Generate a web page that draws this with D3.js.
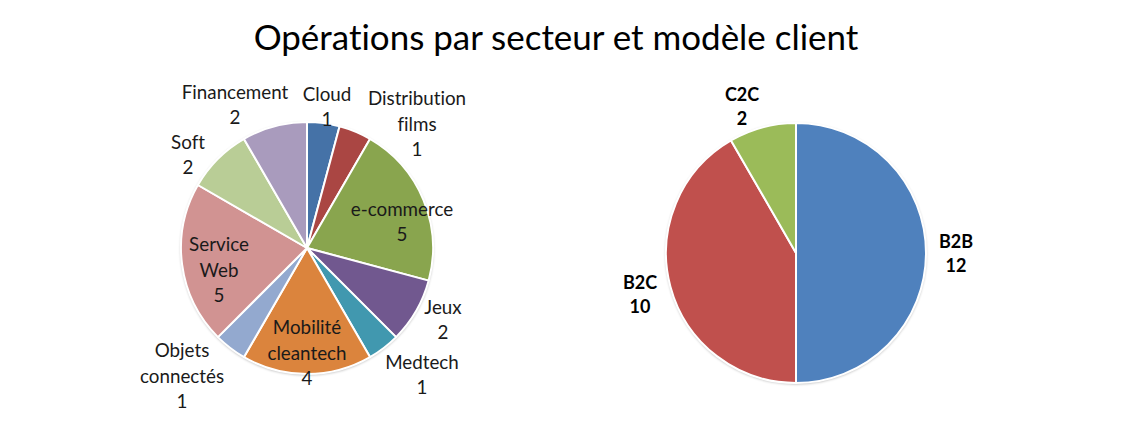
<!DOCTYPE html>
<html><head><meta charset="utf-8">
<script src="https://cdn.jsdelivr.net/npm/d3@7"></script>
<style>
html,body{margin:0;padding:0;background:#fff;}
svg{display:block;font-family:Lato,"Open Sans",sans-serif;font-variant-ligatures:none;}
</style></head><body>
<svg id="chart" width="1135" height="431"></svg>
<script>
// Left pie: sectors
const sectors = ["Cloud","Distribution films","e-commerce","Jeux","Medtech","Mobilité cleantech","Objets connectés","Service Web","Soft","Financement"];
const sectorValues = [1,1,5,2,1,4,1,5,2,2];
// Right pie: client model
const models = ["B2B","B2C","C2C"];
const modelValues = [12,10,2];
const title = "Opérations par secteur et modèle client";

const sectorColors = ["#4572A7","#AA4643","#89A54E","#71588F","#4198AF","#DB843D","#93A9CF","#D19392","#B9CD96","#A99BBD"];
const modelColors = ["#4F81BD","#C0504D","#9BBB59"];

// label line breaks & layout (offsets from pie centre, px)
const sectorLines = {
  "Cloud":["Cloud"],"Distribution films":["Distribution","films"],"e-commerce":["e-commerce"],
  "Jeux":["Jeux"],"Medtech":["Medtech"],"Mobilité cleantech":["Mobilité","cleantech"],
  "Objets connectés":["Objets","connectés"],"Service Web":["Service","Web"],"Soft":["Soft"],"Financement":["Financement"]
};
const sectorLabelPos = {
  "Cloud":[20,-141],"Distribution films":[110,-124],"e-commerce":[95,-26],"Jeux":[136,72],
  "Medtech":[115,127],"Mobilité cleantech":[0,105],"Objets connectés":[-125,128],
  "Service Web":[-88,22],"Soft":[-119,-93],"Financement":[-72,-143]
};
const modelLabelPos = {"B2B":[160,1],"B2C":[-156,42],"C2C":[-54,-146]};

const svg = d3.select("#chart");

// Title
const t = svg.append("text").attr("x",556).attr("y",50).attr("text-anchor","middle")
  .attr("font-size",32).attr("fill","#000").text(title);
const tw = t.node().getComputedTextLength();
t.attr("font-size", 32*605/tw);

// shadow filter
const defs = svg.append("defs");
const f = defs.append("filter").attr("id","sh").attr("x","-10%").attr("y","-10%").attr("width","120%").attr("height","120%");
f.append("feGaussianBlur").attr("in","SourceAlpha").attr("stdDeviation",1.5).attr("result","b");
f.append("feOffset").attr("in","b").attr("dx",0).attr("dy",1).attr("result","o");
f.append("feComponentTransfer").attr("in","o").attr("result","o2").append("feFuncA").attr("type","linear").attr("slope",0.35);
const m = f.append("feMerge"); m.append("feMergeNode").attr("in","o2"); m.append("feMergeNode").attr("in","SourceGraphic");

function drawPie(cx, cy, r, names, values, colors){
  const g = svg.append("g").attr("transform",`translate(${cx},${cy})`);
  const pie = d3.pie().sort(null).value(d=>d.v);
  const arcs = pie(names.map((n,i)=>({n, v:values[i], c:colors[i]})));
  const arc = d3.arc().innerRadius(0).outerRadius(r);
  g.append("circle").attr("r",r).attr("fill","#fff").attr("filter","url(#sh)");
  g.selectAll("path").data(arcs).join("path")
    .attr("d",arc).attr("fill",d=>d.data.c)
    .attr("stroke","#fff").attr("stroke-width",2).attr("stroke-linejoin","round");
  return {g, arcs};
}

// Left pie
const L = drawPie(307,248,126,sectors,sectorValues,sectorColors);
const lfs = 18.8, lh = 25.5;
L.arcs.forEach(a=>{
  const name = a.data.n;
  const lines = sectorLines[name].concat([String(a.data.v)]);
  const [dx,dy] = sectorLabelPos[name];
  const y0 = dy - (lines.length-1)*lh/2;
  const txt = L.g.append("text").attr("text-anchor","middle").attr("font-size",lfs).attr("fill","#1a1a1a");
  lines.forEach((s,i)=>{
    txt.append("tspan").attr("x",dx).attr("y",y0+i*lh).attr("dy","0.35em").text(s);
  });
});

// Right pie
const R = drawPie(796,253,130,models,modelValues,modelColors);
R.arcs.forEach(a=>{
  const name = a.data.n;
  const lines = [name, String(a.data.v)];
  const [dx,dy] = modelLabelPos[name];
  const y0 = dy - (lines.length-1)*24/2;
  const txt = R.g.append("text").attr("text-anchor","middle").attr("font-size",18).attr("font-weight","bold").attr("fill","#000");
  lines.forEach((s,i)=>{
    txt.append("tspan").attr("x",dx).attr("y",y0+i*24).attr("dy","0.35em").text(s);
  });
});
</script>
</body></html>
